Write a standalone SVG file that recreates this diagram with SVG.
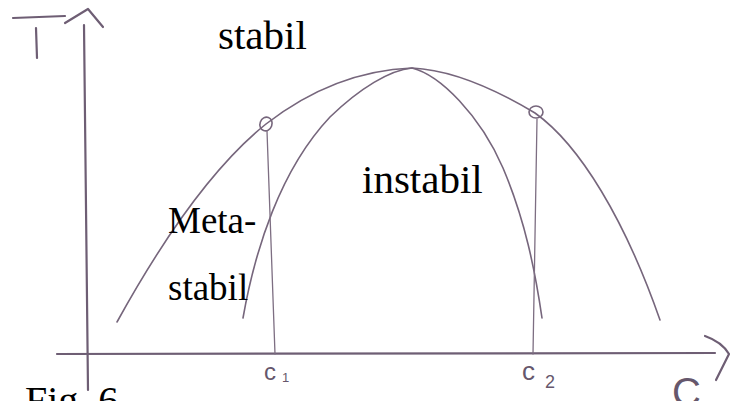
<svg xmlns="http://www.w3.org/2000/svg" width="731" height="401" viewBox="0 0 731 401">
<style>
.ink{fill:none;stroke:#76667c;stroke-width:1.6;stroke-linecap:round;stroke-linejoin:round}
.axis{fill:none;stroke:#6e5e74;stroke-width:2.2;stroke-linecap:round;stroke-linejoin:round}
.thin{fill:none;stroke:#7d6e82;stroke-width:1.3;stroke-linecap:round}
.lbl{font-family:"Liberation Serif","Times New Roman",serif;fill:#000}
.hand{font-family:"Liberation Sans",Arial,sans-serif;fill:#66576c}
</style>
<rect width="731" height="401" fill="#fff"/>
<g id="axes">
<path class="axis" d="M84,25 L88,390"/>
<path class="axis" d="M65,23 L88,9 L103,27"/>
<path class="axis" d="M57,354 L715,353"/>
<path class="axis" d="M705,336 Q722,342 729,354 L716,380"/>
<path class="axis" d="M13,18 L65,16"/>
<path class="axis" d="M36,28 L37,58"/>
</g>
<g id="curves">
<path id="binodal" class="ink" d="M117,322 C165,235 215,165 266,124 C310,90 360,70 412,68 C455,70 500,92 535,113 C580,145 625,220 660,320"/>
<path id="spinodal" class="ink" d="M243,318 C255,250 280,170 330,117 C360,88 390,70 412,68 C440,75 480,115 503,168 C525,220 535,270 542,318"/>
</g>
<g id="markers">
<ellipse class="ink" cx="266" cy="124" rx="6" ry="7" transform="rotate(20 266 124)"/>
<ellipse class="ink" cx="536" cy="112" rx="7" ry="6"/>
<path class="thin" d="M267,131 L275,354"/>
<path class="thin" d="M537,119 L533,354"/>
</g>
<g id="labels">
<text class="lbl" x="218" y="49" font-size="41">stabil</text>
<text class="lbl" x="362" y="193" font-size="41">instabil</text>
<text class="lbl" x="168" y="233" font-size="37">Meta-</text>
<text class="lbl" x="168" y="300" font-size="37">stabil</text>
<text class="lbl" x="25" y="414" font-size="40">Fig. 6</text>
</g>
<g id="axis-labels">
<text class="hand" x="264" y="380" font-size="24">c<tspan x="282" y="382" font-size="13">1</tspan></text>
<text class="hand" x="522" y="380" font-size="26">c<tspan x="545" y="388" font-size="18">2</tspan></text>
<text class="hand" x="672" y="406" font-size="40">C</text>
</g>
</svg>
